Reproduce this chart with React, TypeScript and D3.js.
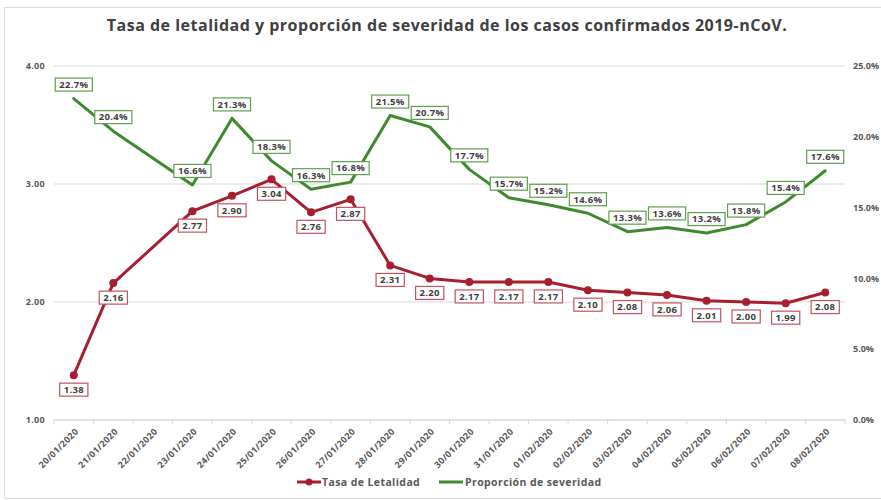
import { useEffect, useRef } from "react";
import * as d3 from "d3";

const dates = [
  "20/01/2020", "21/01/2020", "22/01/2020", "23/01/2020", "24/01/2020",
  "25/01/2020", "26/01/2020", "27/01/2020", "28/01/2020", "29/01/2020",
  "30/01/2020", "31/01/2020", "01/02/2020", "02/02/2020", "03/02/2020",
  "04/02/2020", "05/02/2020", "06/02/2020", "07/02/2020", "08/02/2020",
];
const letalidad: (number | null)[] = [
  1.38, 2.16, null, 2.77, 2.9, 3.04, 2.76, 2.87, 2.31, 2.2,
  2.17, 2.17, 2.17, 2.1, 2.08, 2.06, 2.01, 2.0, 1.99, 2.08,
];
const severidad: (number | null)[] = [
  22.7, 20.4, null, 16.6, 21.3, 18.3, 16.3, 16.8, 21.5, 20.7,
  17.7, 15.7, 15.2, 14.6, 13.3, 13.6, 13.2, 13.8, 15.4, 17.6,
];
const leftTicks = [1, 2, 3, 4];
const rightTicks = [0, 5, 10, 15, 20, 25];

const RED = "#a61f2f";
const GREEN = "#3f8a2e";
const TEXT = "#404040";
const FONT = "'Open Sans', sans-serif";

const App = () => {
  const ref = useRef<SVGSVGElement | null>(null);

  useEffect(() => {
    if (!ref.current) return;
    const svg = d3.select(ref.current);
    svg.selectAll("*").remove();

    const width = 881;
    const height = 500;
    const margin = { top: 66, right: 36, bottom: 80, left: 54 };

    svg
      .append("rect")
      .attr("x", 4.5)
      .attr("y", 7.5)
      .attr("width", width + 10)
      .attr("height", 491)
      .attr("fill", "#fff")
      .attr("stroke", "#d9d9d9");

    svg
      .append("text")
      .attr("x", 447)
      .attr("y", 31)
      .attr("text-anchor", "middle")
      .attr("font-family", FONT)
      .attr("font-weight", 700)
      .attr("font-size", 16)
      .attr("letter-spacing", 0.5)
      .attr("fill", TEXT)
      .text("Tasa de letalidad y proporción de severidad de los casos confirmados 2019-nCoV.");

    const x = d3
      .scaleBand()
      .domain(dates)
      .range([margin.left, width - margin.right]);
    const cx = (d: string) => (x(d) ?? 0) + x.bandwidth() / 2;

    const yL = d3.scaleLinear().domain([1, 4]).range([height - margin.bottom, margin.top]);
    const yR = d3.scaleLinear().domain([0, 25]).range([height - margin.bottom, margin.top]);

    // gridlines
    svg
      .append("g")
      .selectAll("line")
      .data(leftTicks)
      .enter()
      .append("line")
      .attr("x1", margin.left)
      .attr("x2", width - margin.right)
      .attr("y1", (d) => yL(d))
      .attr("y2", (d) => yL(d))
      .attr("stroke", "#d9d9d9")
      .attr("stroke-width", 1);

    // left axis labels
    svg
      .append("g")
      .selectAll("text")
      .data(leftTicks)
      .enter()
      .append("text")
      .attr("x", 45)
      .attr("y", (d) => yL(d))
      .attr("dy", "0.35em")
      .attr("text-anchor", "end")
      .attr("font-family", FONT)
      .attr("font-weight", 700)
      .attr("font-size", 9)
      .attr("letter-spacing", 0.3)
      .attr("fill", "#595959")
      .text((d) => d.toFixed(2));

    // right axis labels
    svg
      .append("g")
      .selectAll("text")
      .data(rightTicks)
      .enter()
      .append("text")
      .attr("x", 853)
      .attr("y", (d) => yR(d))
      .attr("dy", "0.35em")
      .attr("font-family", FONT)
      .attr("font-weight", 700)
      .attr("font-size", 9)
      .attr("fill", "#595959")
      .text((d) => d.toFixed(1) + "%");

    // x axis
    const xAxis = svg
      .append("g")
      .attr("transform", `translate(0,${height - margin.bottom})`);
    xAxis
      .append("line")
      .attr("x1", margin.left)
      .attr("x2", width - margin.right)
      .attr("stroke", "#d9d9d9");
    const bounds = dates.map((d) => x(d) ?? 0).concat([width - margin.right]);
    xAxis
      .selectAll("line.tick")
      .data(bounds)
      .enter()
      .append("line")
      .attr("class", "tick")
      .attr("x1", (d) => d)
      .attr("x2", (d) => d)
      .attr("y1", 0)
      .attr("y2", 4)
      .attr("stroke", "#d9d9d9");
    xAxis
      .selectAll("text")
      .data(dates)
      .enter()
      .append("text")
      .attr("transform", (d) => `translate(${cx(d) + 3},10) rotate(-45)`)
      .attr("text-anchor", "end")
      .attr("dy", "0.35em")
      .attr("font-family", FONT)
      .attr("font-weight", 700)
      .attr("font-size", 9)
      .attr("letter-spacing", 0.3)
      .attr("fill", "#595959")
      .text((d) => d);

    const drawSeries = (
      vals: (number | null)[],
      y: d3.ScaleLinear<number, number>,
      color: string,
      border: string,
      fmt: (v: number) => string,
      offset: number,
      markers: boolean
    ) => {
      const pts = dates
        .map((d, i) => ({ d, v: vals[i] }))
        .filter((p) => p.v !== null) as { d: string; v: number }[];
      const line = d3
        .line<{ d: string; v: number }>()
        .x((p) => cx(p.d))
        .y((p) => y(p.v));
      const g = svg.append("g");
      g.append("path")
        .datum(pts)
        .attr("fill", "none")
        .attr("stroke", color)
        .attr("stroke-width", 3)
        .attr("stroke-linejoin", "round")
        .attr("stroke-linecap", "round")
        .attr("d", line);
      if (markers) {
        g.selectAll("circle")
          .data(pts)
          .enter()
          .append("circle")
          .attr("cx", (p) => cx(p.d))
          .attr("cy", (p) => y(p.v))
          .attr("r", 4)
          .attr("fill", color);
      }
      const lab = g
        .selectAll("g.lab")
        .data(pts)
        .enter()
        .append("g")
        .attr("class", "lab")
        .attr("transform", (p) => `translate(${cx(p.d)},${y(p.v) + offset})`);
      const txt = lab
        .append("text")
        .attr("text-anchor", "middle")
        .attr("dy", "0.35em")
        .attr("font-family", FONT)
        .attr("font-weight", 700)
        .attr("font-size", 9.5)
        .attr("letter-spacing", 0.3)
        .attr("fill", TEXT)
        .text((p) => fmt(p.v));
      txt.each(function () {
        const w = (this as SVGTextElement).getComputedTextLength();
        d3.select((this as SVGTextElement).parentNode as SVGGElement)
          .insert("rect", "text")
          .attr("x", -w / 2 - 4)
          .attr("y", -6.5)
          .attr("width", w + 8)
          .attr("height", 13)
          .attr("fill", "#fff")
          .attr("stroke", border)
          .attr("stroke-width", 1.2);
      });
    };

    drawSeries(severidad, yR, GREEN, "#5f9f4f", (v) => v.toFixed(1) + "%", -14, false);
    drawSeries(letalidad, yL, RED, "#c25360", (v) => v.toFixed(2), 14.5, true);

    // legend
    const leg = svg.append("g").attr("transform", "translate(0,482)");
    leg.append("line").attr("x1", 297).attr("x2", 321).attr("stroke", RED).attr("stroke-width", 3);
    leg.append("circle").attr("cx", 309).attr("r", 3.5).attr("fill", RED);
    leg
      .append("text")
      .attr("x", 322)
      .attr("dy", "0.35em")
      .attr("font-family", FONT)
      .attr("font-weight", 700)
      .attr("font-size", 10.5)
      .attr("letter-spacing", 0.4)
      .attr("fill", "#595959")
      .text("Tasa de Letalidad");
    leg.append("line").attr("x1", 439).attr("x2", 463).attr("stroke", GREEN).attr("stroke-width", 3);
    leg
      .append("text")
      .attr("x", 465)
      .attr("dy", "0.35em")
      .attr("font-family", FONT)
      .attr("font-weight", 700)
      .attr("font-size", 10.5)
      .attr("letter-spacing", 0.4)
      .attr("fill", "#595959")
      .text("Proporción de severidad");
  }, []);

  return (
    <div style={{ position: "absolute", left: 0, top: 0 }}>
      <svg ref={ref} width={881} height={500} style={{ display: "block" }} />
    </div>
  );
};

export default App;
